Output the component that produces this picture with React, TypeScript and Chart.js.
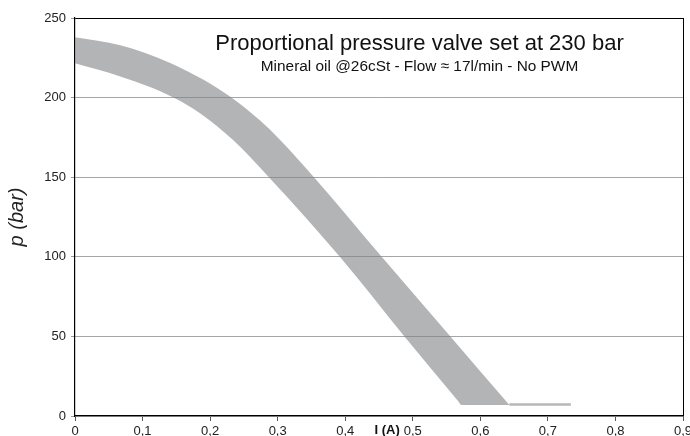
import React, { useEffect, useRef } from "react";
import { Chart, registerables } from "chart.js";

Chart.register(...registerables);

// Upper edge of the tolerance band (current in A, pressure in bar)
const upperI = [0, 0.067, 0.141, 0.189, 0.232, 0.274, 0.303, 0.355, 0.454, 0.556, 0.643];
const upperP = [237.9, 232.9, 221.8, 211.5, 199.9, 185.6, 173.7, 149.4, 100, 49.8, 6.9];
// Lower edge of the tolerance band
const lowerI = [0, 0.067, 0.111, 0.148, 0.185, 0.234, 0.288, 0.392, 0.488, 0.567, 0.572, 0.643];
const lowerP = [221.5, 213.3, 206.7, 199.6, 190.2, 173.3, 149.5, 100, 49.8, 9.4, 6.9, 6.9];
// Thin residual line at the bottom
const tailI = [0.643, 0.734];
const tailP = [7.3, 7.3];

const xTickLabels = ["0", "0,1", "0,2", "0,3", "0,4", "0,5", "0,6", "0,7", "0,8", "0,9"];
const yTickLabels = ["0", "50", "100", "150", "200", "250"];

const titleText = "Proportional pressure valve set at 230 bar";
const subtitleText = "Mineral oil @26cSt - Flow \u2248 17l/min - No PWM";
const xAxisLabel = "I (A)";
const yAxisLabel = "p (bar)";

const FONT = '"Liberation Sans", Arial, Helvetica, sans-serif';

const toPts = (xs: number[], ys: number[]) => xs.map((x, i) => ({ x, y: ys[i] }));

const textPlugin = {
  id: "chartTexts",
  afterDraw(chart: any) {
    const { ctx, chartArea, scales } = chart;
    ctx.save();
    ctx.fillStyle = "#111";
    ctx.textAlign = "center";
    ctx.textBaseline = "alphabetic";
    const cx = chartArea.left + 344.5;
    ctx.font = `22px ${FONT}`;
    ctx.fillText(titleText, cx, chartArea.top + 32);
    ctx.font = `15.4px ${FONT}`;
    ctx.fillText(subtitleText, cx, chartArea.top + 53);
    ctx.font = `bold 13px ${FONT}`;
    ctx.textBaseline = "middle";
    ctx.fillText(xAxisLabel, scales.x.getPixelForValue(0.462), chartArea.bottom + 14);
    ctx.restore();
  },
};

export default function App() {
  const ref = useRef<HTMLCanvasElement | null>(null);

  useEffect(() => {
    if (!ref.current) return;
    const bandFill = "rgba(128,130,133,0.6)";
    const chart = new Chart(ref.current, {
      type: "line",
      data: {
        datasets: [
          {
            data: toPts(upperI, upperP),
            borderWidth: 0,
            borderColor: "rgba(0,0,0,0)",
            pointRadius: 0,
            fill: false,
            cubicInterpolationMode: "monotone",
          },
          {
            data: toPts(lowerI, lowerP),
            borderWidth: 0,
            borderColor: "rgba(0,0,0,0)",
            backgroundColor: bandFill,
            pointRadius: 0,
            fill: "-1",
            cubicInterpolationMode: "monotone",
          },
          {
            data: toPts(tailI, tailP),
            borderWidth: 2.5,
            borderColor: "#b6b7b9",
            pointRadius: 0,
            fill: false,
          },
        ],
      },
      options: {
        animation: false,
        responsive: false,
        devicePixelRatio: 1,
        layout: { padding: { left: 0, top: 18, right: 7, bottom: 0 } },
        plugins: {
          legend: { display: false },
          tooltip: { enabled: false },
        },
        scales: {
          x: {
            type: "linear",
            min: 0,
            max: 0.9,
            ticks: {
              stepSize: 0.1,
              color: "#222",
              font: { family: FONT, size: 13 },
              padding: 3,
              maxRotation: 0,
              autoSkip: false,
              callback: (_v: any, i: number) => xTickLabels[i],
            },
            grid: {
              color: (c: any) => (c.tick && Math.abs(c.tick.value - 0.9) < 1e-6 ? "#000" : "rgba(0,0,0,0)"),
              lineWidth: 1,
              drawTicks: true,
              tickLength: 5,
              tickColor: "#555",
            },
            border: { display: true, color: "#000", width: 1.2 },
            afterFit: (s: any) => {
              s.height = 20;
              s.paddingLeft = 0;
              s.paddingRight = 0;
            },
          },
          y: {
            type: "linear",
            min: 0,
            max: 250,
            ticks: {
              stepSize: 50,
              color: "#222",
              font: { family: FONT, size: 13 },
              padding: 5,
              callback: (_v: any, i: number) => yTickLabels[i],
            },
            grid: {
              color: (c: any) => (c.tick && c.tick.value === 250 ? "#000" : "#a6a6a6"),
              lineWidth: 1,
              drawTicks: true,
              tickLength: 4,
              tickColor: "#9a9a9a",
            },
            border: { display: true, color: "#000", width: 1.2 },
            title: {
              display: true,
              text: yAxisLabel,
              color: "#222",
              font: { family: FONT, size: 20, style: "italic" },
              padding: { top: 5, bottom: 0 },
            },
            afterFit: (s: any) => {
              s.width = 75;
              s.paddingTop = 0;
              s.paddingBottom = 0;
            },
          },
        },
      },
      plugins: [textPlugin],
    } as any);
    return () => chart.destroy();
  }, []);

  return (
    <div style={{ position: "absolute", left: 0, top: 0, width: 690, height: 436, background: "#fff" }}>
      <canvas ref={ref} width={690} height={436} style={{ display: "block" }} />
    </div>
  );
}
